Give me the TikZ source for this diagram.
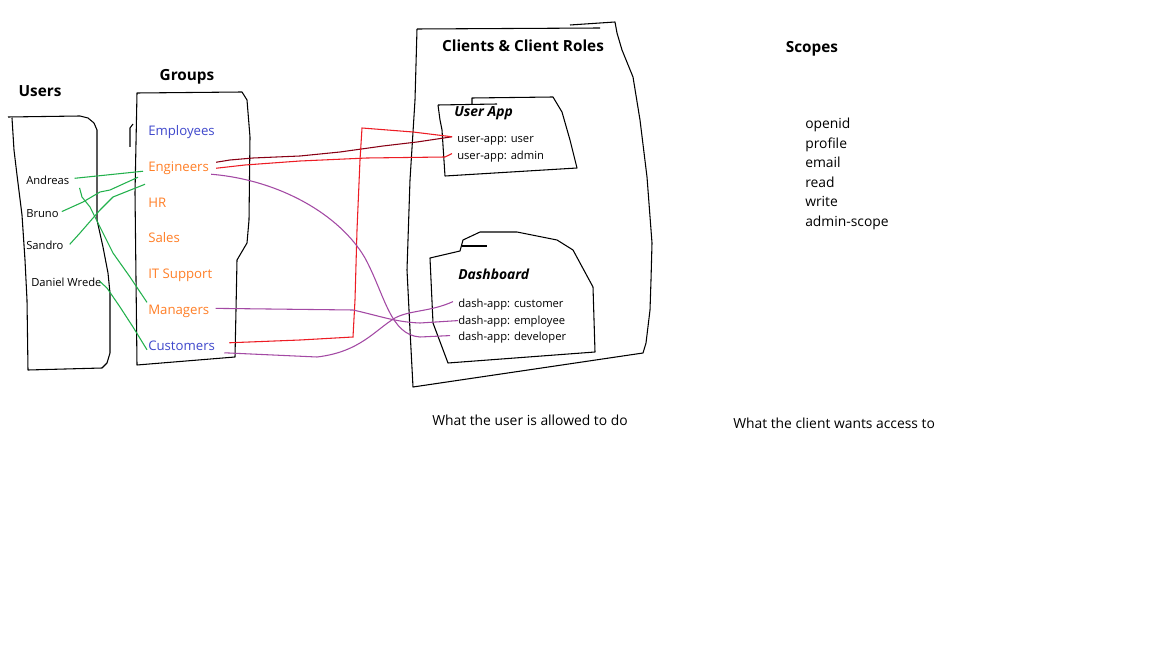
\documentclass[tikz,border=0pt]{standalone}
\usepackage{fontspec}
\setmainfont{Open Sans}
\usetikzlibrary{calc}
\definecolor{pblue}{RGB}{63,72,204}
\definecolor{porange}{RGB}{255,127,39}
\definecolor{pgreen}{RGB}{34,177,76}
\definecolor{pred}{RGB}{237,28,36}
\definecolor{pdred}{RGB}{136,0,21}
\definecolor{ppurple}{RGB}{163,73,164}
\tikzset{
  outline/.style={draw=black,line width=0.8pt,line join=round},
  head/.style={inner sep=0pt,anchor=base,font=\fontsize{11.5}{13}\selectfont\bfseries},
  small/.style={inner sep=0pt,anchor=base west,font=\fontsize{8.4}{10}\selectfont},
  grp/.style={inner sep=0pt,anchor=base west,font=\fontsize{9.9}{12}\selectfont},
  apptitle/.style={inner sep=0pt,anchor=base west,font=\fontsize{10.4}{12}\selectfont\bfseries\itshape},
  body/.style={inner sep=0pt,anchor=base west,font=\fontsize{10.4}{12}\selectfont},
  gline/.style={draw=pgreen,line width=0.8pt},
  rline/.style={draw=pred,line width=0.8pt},
  drline/.style={draw=pdred,line width=0.8pt},
  pline/.style={draw=ppurple,line width=0.8pt},
}
\begin{document}
\begin{tikzpicture}[x=0.75pt,y=-0.75pt]
\useasboundingbox (0,0) rectangle (1152,648);
\fill[white] (0,0) rectangle (1152,648);

% ---------- boxes ----------
% Users
\draw[outline] (8,117) -- (80,116) -- (88,118) -- (94,123) -- (97,130) -- (97,220) -- (103,247) -- (108,273) -- (110,293) -- (110,353) -- (107,363) -- (102,368) -- (28,370) -- (27,300) -- (25,260) -- (22,215) -- (17,175) -- (14,150) -- (12,118);
% Groups
\draw[outline] (137,93) -- (242,92) -- (247,100) -- (250,137) -- (249,220) -- (247,243) -- (237,260) -- (236,310) -- (235,357) -- (137,365) -- (135,193) -- cycle;
\draw[outline] (133,124) -- (130,128) -- (130,147);
% Clients
\draw[outline] (417,29) -- (600,28);
\draw[outline] (570,25) -- (615,22) -- (617,33) -- (622,50) -- (633,77) -- (640,120) -- (647,177) -- (652,243) -- (651,280) -- (650,310) -- (646,343) -- (643,353) -- (413,387) -- (410,330) -- (407,270) -- (410,180) -- (415,100) -- (417,29);
% User App
\draw[outline] (438,105) -- (497,104);
\draw[outline] (438,105) -- (440,120) -- (442,130) -- (445,176) -- (577,168) -- (570,140) -- (562,112) -- (553,97) -- (472,98) -- (472,105);
% Dashboard
\draw[outline] (462,246) -- (487,246);
\draw[outline] (430,258) -- (460,251) -- (463,240) -- (480,232) -- (517,232) -- (557,240) -- (573,250) -- (593,287) -- (595,352) -- (448,363) -- (433,323) -- cycle;

% ---------- headers ----------
\node[head] (hUsers) at (40,97) {Users};
\node[head] (hGroups) at (187,81) {Groups};
\node[head] (hClients) at (523,52) {Clients \& Client Roles};
\node[head] (hScopes) at (812,53) {Scopes};

% ---------- users ----------
\node[small] (u1) at (26,184.5) {Andreas};
\node[small] (u2) at (26,217.5) {Bruno};
\node[small] (u3) at (26,249.5) {Sandro};
\node[small] (u4) at (31,286.5) {Daniel Wrede};

% ---------- groups ----------
\node[grp,text=pblue]   (g1) at (148,135.5) {Employees};
\node[grp,text=porange] (g2) at (148,171.5) {Engineers};
\node[grp,text=porange] (g3) at (148,207.5) {HR};
\node[grp,text=porange] (g4) at (148,242.5) {Sales};
\node[grp,text=porange] (g5) at (148,278.5) {IT Support};
\node[grp,text=porange] (g6) at (148,314.5) {Managers};
\node[grp,text=pblue]   (g7) at (148,350.5) {Customers};

% ---------- clients ----------
\node[apptitle] (ua) at (454,116.5) {User App};
\node[small] (r1) at (457,142.5) {user-app: user};
\node[small] (r2) at (457,159.5) {user-app: admin};
\node[apptitle] (da) at (458,279.5) {Dashboard};
\node[small] (d1) at (458,307.5) {dash-app: customer};
\node[small] (d2) at (458,324.5) {dash-app: employee};
\node[small] (d3) at (458,340.5) {dash-app: developer};

% ---------- scopes ----------
\node[body] (s1) at (805,129) {openid};
\node[body] (s2) at (805,148.5) {profile};
\node[body] (s3) at (805,168) {email};
\node[body] (s4) at (805,187.5) {read};
\node[body] (s5) at (805,207) {write};
\node[body] (s6) at (805,226.5) {admin-scope};

% ---------- captions ----------
\node[body] (c1) at (432,425) {What the user is allowed to do};
\node[body] (c2) at (733,428) {What the client wants access to};

% ---------- green: users -> groups ----------
\draw[gline] ($(u1.east)+(5,-2)$) -- (97,176) -- ($(g2.west)+(-5,3)$);
\draw[gline] ($(u2.east)+(3,-2)$) -- (83,202) -- (100,192) -- (110,190) -- ($(g2.west)+(-10,9)$);
\draw[gline] ($(u3.east)+(6,-1)$) -- (80,233) -- (100,210) -- (113,197) -- ($(g2.west)+(-3,16)$);
\draw[gline] ($(u1.south east)+(10,3)$) -- (82,197) -- (90,207) -- (100,227) -- (113,253) -- (130,277) -- ($(g6.west)+(-1,-9)$);
\draw[gline] ($(u4.east)+(-2,-1)$) -- (107,288) -- (120,307) -- (133,327) -- ($(g7.west)+(-1,4)$);

% ---------- red: groups -> user app ----------
\draw[drline] ($(g2.east)+(7,-6)$) -- (230,160) -- (253,158) -- (300,156) -- (340,152) -- (383,146) -- (417,142) -- ($(r1.west)+(-5,-4)$);
\draw[rline] ($(g2.east)+(7,0)$) -- (245,165) -- (300,161) -- (367,158) -- (445,157) -- ($(r2.west)+(-5,-3)$);
\draw[rline] ($(g7.east)+(14,-3)$) -- (300,340) -- (353,337) -- (355,300) -- (357,230) -- (360,160) -- (362,128) -- (413,132) -- ($(r1.west)+(-5,-4)$);

% ---------- purple: groups -> dashboard ----------
\draw[pline] ($(g2.east)+(2,6)$) .. controls (280,180) and (340,215) .. (365,258)
  .. controls (385,295) and (390,335) .. (420,337) -- ($(d3.west)+(-8,-2)$);
\draw[pline] ($(g6.east)+(6,-3)$) -- (353,310) .. controls (380,316) and (395,322) .. (420,323) -- ($(d2.west)+(0,-1)$);
\draw[pline] ($(g7.east)+(9,7)$) -- (317,357) .. controls (360,352) and (375,330) .. (395,318)
  .. controls (410,310) and (430,312) .. ($(d1.west)+(-5,-3)$);
\end{tikzpicture}
\end{document}
